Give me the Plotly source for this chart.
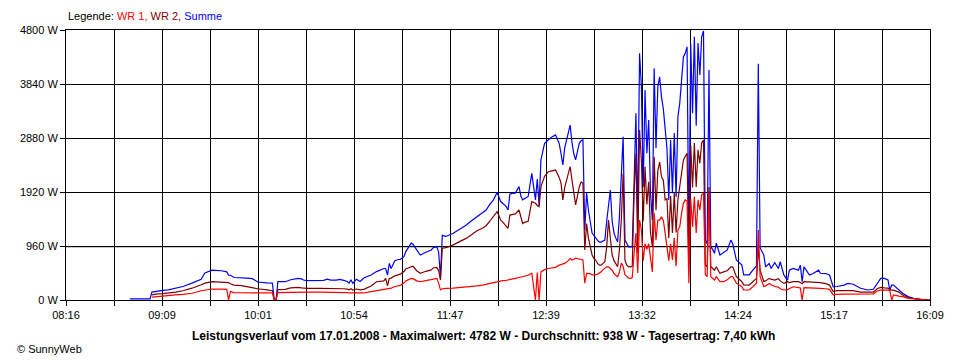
import plotly.graph_objects as go

# ---- data (time, WR 1, WR 2, Summe in W) ----
times = [
 "08:51","09:02","09:03","09:06","09:09","09:12","09:16","09:20","09:25","09:30","09:32","09:36","09:41","09:44","09:45","09:46","09:48","09:52","09:55","09:58",
 "10:01","10:06","10:09","10:10","10:11","10:12","10:16","10:19","10:21","10:23","10:25","10:26","10:28","10:35","10:37","10:39","10:41","10:44","10:46","10:48",
 "10:50","10:51","10:52","10:53","10:55","10:57","10:59","11:03","11:06","11:10","11:11","11:12","11:13","11:14","11:16","11:18","11:19","11:21","11:22","11:25",
 "11:26","11:28","11:30","11:33","11:36","11:37","11:39","11:40","11:41","11:42","11:44","11:48","11:52","11:55","11:58","12:01","12:04","12:06","12:08","12:10",
 "12:12","12:13","12:14","12:15","12:17","12:18","12:19","12:20","12:22","12:24","12:25","12:26","12:27","12:29","12:31","12:33","12:34","12:35","12:36","12:38",
 "12:40","12:42","12:44","12:46","12:47","12:48","12:49","12:51","12:52","12:53","12:54","12:55","12:56","12:57","12:58","12:59","13:00","13:01","13:02","13:03",
 "13:04","13:05","13:06","13:07","13:08","13:09","13:10","13:11","13:12","13:13","13:14","13:15","13:16","13:17","13:18","13:19","13:20","13:21","13:22","13:23",
 "13:24","13:25","13:26","13:27","13:28","13:29","13:30","13:31","13:32","13:33","13:34","13:35","13:36","13:37","13:38","13:39","13:40","13:41","13:42","13:43",
 "13:44","13:45","13:46","13:47","13:48","13:49","13:50","13:51","13:52","13:53","13:54","13:55","13:56","13:57","13:58","13:59","14:00","14:01","14:02","14:03",
 "14:04","14:05","14:06","14:07","14:08","14:09","14:10","14:11","14:12","14:14","14:16","14:18","14:20","14:21","14:23","14:26","14:27","14:30","14:32","14:34",
 "14:35","14:36","14:38","14:39","14:41","14:42","14:44","14:46","14:47","14:49","14:51","14:52","14:54","14:57","14:58","14:59","15:00","15:03","15:05","15:08",
 "15:09","15:12","15:14","15:16","15:18","15:22","15:24","15:27","15:31","15:35","15:38","15:40","15:42","15:44","15:46","15:47","15:48","15:49","15:52","15:54",
 "15:57","16:00","16:04","16:09"]

wr1 = [
 None,None,50,60,70,90,90,100,120,165,175,195,195,190,0,150,130,130,130,130,
 130,125,125,0,0,130,135,140,140,140,140,140,140,140,140,140,140,140,138,135,
 130,125,125,122,120,120,125,150,165,185,190,190,195,210,240,255,260,300,340,385,
 380,340,325,345,370,380,385,300,180,200,208,210,220,230,240,250,265,280,300,320,
 335,338,340,345,350,355,360,365,385,400,410,420,425,440,475,0,490,0,500,540,
 560,570,580,620,630,640,650,700,740,710,720,745,740,730,720,710,300,475,470,470,
 445,445,445,460,475,500,540,565,590,590,560,530,470,450,415,500,655,600,450,420,
 390,385,400,830,1190,480,1420,1245,700,1000,900,1000,700,500,1545,1065,1420,1420,1480,1420,
 1190,900,700,1000,710,1100,600,1245,1300,1545,1720,1780,1760,300,1800,1300,1840,1190,1780,1600,
 1870,1900,450,415,1900,415,380,355,415,325,325,360,415,415,300,235,180,178,235,300,
 1245,415,240,250,295,270,240,230,200,178,185,200,235,220,215,0,220,215,215,210,
 205,200,190,90,100,105,105,105,105,105,110,160,178,175,170,175,0,90,70,60,
 30,20,5,0]

wr2 = [
 None,None,90,110,115,120,140,165,210,270,300,325,320,310,310,290,265,255,235,220,
 200,180,165,0,0,185,190,215,225,225,215,210,208,208,208,210,208,208,206,200,
 195,180,200,178,195,180,190,250,325,340,385,250,385,390,430,450,460,505,550,590,
 600,520,475,510,535,570,580,520,355,920,930,980,1040,1095,1160,1230,1275,1320,1400,1480,
 1570,1500,1420,1390,1320,1275,1510,1520,1530,1600,1450,1360,1380,1400,1750,1720,1680,1660,2015,2200,
 2280,2290,2310,2180,2080,1780,2000,2250,2370,2130,1900,1690,1850,2010,2100,2075,890,1360,1100,945,
 800,740,710,650,620,620,650,680,945,1420,1100,800,700,655,590,900,1420,2250,710,620,
 590,590,600,1900,2610,830,3020,2490,1400,2370,1700,2100,1200,950,2545,1600,2300,2450,2190,2130,
 1780,1800,1100,1850,1190,1900,1200,1780,2010,2250,2490,2550,2610,650,2750,2000,2790,2010,2670,2430,
 2790,2845,620,590,2010,590,560,530,590,475,500,520,590,590,415,325,270,265,325,385,
 945,530,330,340,385,370,355,380,340,295,325,310,325,325,310,290,325,320,320,310,
 310,290,265,150,165,165,170,165,140,140,140,200,225,215,210,180,175,175,140,90,
 45,25,8,0]

summe = [
 20,20,140,160,170,180,210,240,300,370,480,530,520,500,440,440,400,400,390,380,
 320,305,300,0,0,325,325,360,370,385,375,355,345,345,350,370,355,355,365,350,
 330,300,360,295,370,330,390,445,505,560,560,445,650,560,700,720,720,770,860,1010,
 990,890,800,850,890,930,950,850,410,1150,1130,1185,1260,1330,1410,1480,1540,1600,1700,1780,
 1910,1830,1750,1720,1660,1600,1880,1895,1900,2015,1850,1780,1800,1840,2250,1780,2150,1690,2490,2785,
 2845,2900,2935,2785,2600,2400,2700,2950,3110,2800,2600,2490,2640,2790,2830,2845,1245,1900,1600,1420,
 1190,1150,1100,1060,1030,1030,1050,1065,1400,1700,1955,1400,1190,1100,1030,1500,2130,2900,1065,1000,
 945,945,945,2075,3320,1400,4385,3790,2010,3735,2610,3200,1900,1420,4120,2700,3790,3965,3610,3400,
 3080,2700,1780,2845,1900,2970,1830,3255,3500,3950,4320,4385,4500,945,4550,3320,4680,3100,4570,4000,
 4680,4782,1065,1000,4090,945,900,830,1010,800,850,890,1065,1000,710,620,445,445,530,600,
 4200,925,800,590,650,560,665,560,680,445,355,530,560,530,620,325,590,445,470,530,
 475,470,445,235,240,265,295,280,208,178,190,295,385,385,355,178,265,265,180,120,
 60,30,12,0]

x_tick_labels = ["08:16", "09:09", "10:01", "10:54", "11:47", "12:39", "13:32", "14:24", "15:17", "16:09"]
y_tick_values = [0, 960, 1920, 2880, 3840, 4800]
y_tick_labels = ["0 W", "960 W", "1920 W", "2880 W", "3840 W", "4800 W"]

title_text = ("Leistungsverlauf vom 17.01.2008 - Maximalwert: 4782 W - "
              "Durchschnitt: 938 W - Tagesertrag: 7,40 kWh")


def to_min(s):
    h, m = s.split(":")
    return int(h) * 60 + int(m)


xm = [to_min(t) for t in times]
x_start = to_min(x_tick_labels[0])
x_end = to_min(x_tick_labels[-1])
n_div = 2 * (len(x_tick_labels) - 1)
x_tick_vals = [x_start + k * (x_end - x_start) / n_div for k in range(n_div + 1)]
x_tick_text = []
for k in range(n_div + 1):
    x_tick_text.append(x_tick_labels[k // 2] if k % 2 == 0 else "")

FONT = "Liberation Sans, Arial, sans-serif"

fig = go.Figure()
fig.add_trace(go.Scatter(x=xm, y=summe, mode="lines", name="Summe",
                         line=dict(color="#0000FF", width=1.2)))
fig.add_trace(go.Scatter(x=xm, y=wr2, mode="lines", name="WR 2",
                         line=dict(color="#800000", width=1.2)))
fig.add_trace(go.Scatter(x=xm, y=wr1, mode="lines", name="WR 1",
                         line=dict(color="#FF0000", width=1.2)))

fig.update_layout(
    width=952, height=352,
    margin=dict(l=52, r=30, t=22, b=60),
    paper_bgcolor="white", plot_bgcolor="white",
    showlegend=False,
    font=dict(family=FONT, size=11, color="black"),
    xaxis=dict(range=[x_start, x_end], tickmode="array",
               tickvals=x_tick_vals, ticktext=x_tick_text,
               showgrid=True, gridcolor="black", gridwidth=1,
               showline=True, linecolor="black", linewidth=1, mirror=True,
               ticks="outside", ticklen=5, tickcolor="black",
               zeroline=False, fixedrange=True),
    yaxis=dict(range=[0, 4800], tickmode="array",
               tickvals=y_tick_values, ticktext=y_tick_labels,
               showgrid=True, gridcolor="black", gridwidth=1,
               showline=True, linecolor="black", linewidth=1, mirror=True,
               ticks="outside", ticklen=5, tickcolor="black",
               zeroline=False, fixedrange=True),
    shapes=[dict(type="line", xref="paper", x0=0, x1=1, yref="y",
                 y0=942, y1=942, line=dict(color="#909090", width=1),
                 layer="below")],
    annotations=[
        dict(xref="paper", yref="paper", x=0, y=1.052, xanchor="left",
             yanchor="middle", showarrow=False,
             text=('Legende: <span style="color:#FF0000">WR 1,</span> '
                   '<span style="color:#800000">WR 2,</span> '
                   '<span style="color:#0000FF">Summe</span>'),
             font=dict(size=11, color="black", family=FONT)),
        dict(xref="paper", yref="paper", x=0.483, y=-0.133, xanchor="center",
             yanchor="middle", showarrow=False, text="<b>" + title_text + "</b>",
             font=dict(size=12, color="black", family=FONT)),
        dict(xref="paper", yref="paper", x=-0.059, y=-0.181, xanchor="left",
             yanchor="middle", showarrow=False, text="© SunnyWeb",
             font=dict(size=11, color="black", family=FONT)),
    ],
)

fig.write_html("out.html")
